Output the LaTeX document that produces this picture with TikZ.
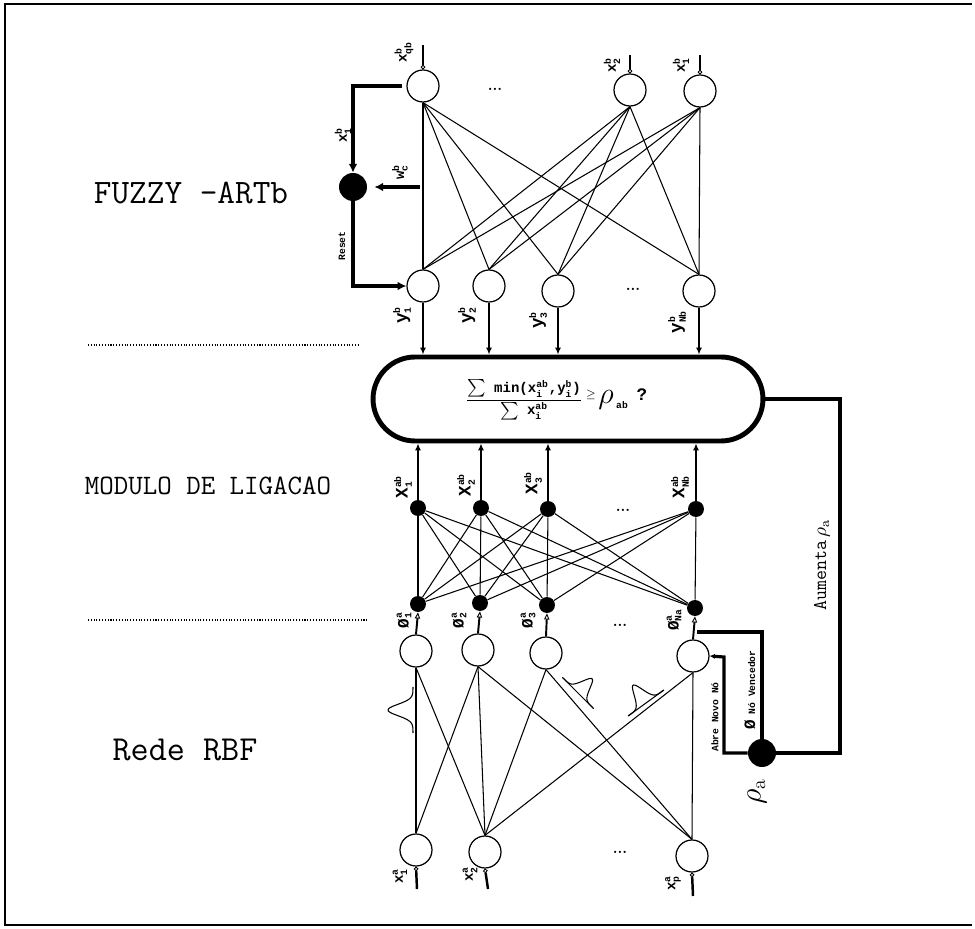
\documentclass[tikz,border=0pt]{standalone}
\usepackage{fontspec}
\newfontfamily\lblf{Liberation Mono}
\usetikzlibrary{arrows.meta}
\newcommand\SB[3]{#1$^{\hbox{\fontsize{5.5}{6}\selectfont#2}}_{\hbox{\fontsize{5.5}{6}\selectfont#3}}$}
\begin{document}
\begin{tikzpicture}[x=0.02cm,y=-0.02cm,
 neuron/.style={circle,draw,line width=0.7pt,minimum size=0.64cm,inner sep=0pt},
 ldot/.style={circle,fill,minimum size=0.32cm,inner sep=0pt},
 bigdot/.style={circle,fill,minimum size=0.56cm,inner sep=0pt},
 wire/.style={line width=0.6pt},
 heavy/.style={line width=1.8pt},
 outarr/.style={line width=1.4pt,-{Latex[length=4pt,width=3.5pt]}},
 inarr/.style={line width=1.4pt,-{Circle[open,length=2.6pt,width=2.6pt,line width=0.5pt]}},
 phiarr/.style={line width=1.1pt,-{Triangle[open,length=3.5pt,width=3pt,line width=0.5pt]}},
 lbl/.style={rotate=90,inner sep=0pt,font=\lblf\bfseries\fontsize{8}{9}\selectfont},
 lblb/.style={rotate=90,inner sep=0pt,font=\lblf\bfseries\fontsize{10}{11}\selectfont},
 tinylbl/.style={rotate=90,inner sep=0pt,font=\lblf\bfseries\fontsize{5.5}{6}\selectfont},
 ell/.style={font=\bfseries\fontsize{8}{8}\selectfont,inner sep=0pt}
]
\useasboundingbox (0,0) rectangle (975,929);
% frame
\draw[line width=1.2pt] (972,4) -- (5,4) -- (5,925) -- (972,925);

% ---------- FUZZY ARTb ----------
\node[neuron] (qb) at (423,86) {};
\node[neuron] (xb2) at (630,90) {};
\node[neuron] (xb1) at (700,91) {};
\node[ell] (dtop) at (495,89) {...};
\node[neuron] (y1) at (423,286) {};
\node[neuron] (y2) at (489,286) {};
\node[neuron] (y3) at (558,291) {};
\node[neuron] (yN) at (699,291) {};
\node[ell] (dy) at (633,289) {...};
\foreach \a in {qb,xb2,xb1}{\foreach \b in {y1,y2,y3,yN}{\draw[wire] (\a.south) -- (\b.north);}}

\coordinate (iqb) at (423,45);
\coordinate (ix2) at (630,55);
\coordinate (ix1) at (700,55);
\draw[inarr] (iqb) -- (qb.north);
\draw[inarr] (ix2) -- (xb2.north);
\draw[inarr] (ix1) -- (xb1.north);
\node[lbl] (lqb) at (404,52) {\SB{x}{b}{qb}};
\node[lbl] (lx2) at (612,65) {\SB{x}{b}{2}};
\node[lbl] (lx1) at (681,65) {\SB{x}{b}{1}};

% reset loop
\node[bigdot] (reset) at (353,187) {};
\coordinate (qbl) at (402,86);
\coordinate (wc) at (420,187);
\draw[heavy,-{Latex[length=5pt,width=5pt]}] (qbl) -| (reset.north);
\draw[heavy,-{Latex[length=5pt,width=5pt]}] (reset.south) |- (y1.west);
\draw[heavy,-{Latex[length=5pt,width=5pt]}] (wc) -- ([xshift=4pt]reset.east);
\node[lbl] (lxr) at (343,135) {\SB{x}{b}{1}};
\node[tinylbl] (lreset) at (342,246) {Reset};
\node[lbl] (lw) at (400,172) {\SB{w}{b}{c}};

% outputs y
\node[draw,line width=2.8pt,rounded corners=0.84cm,minimum width=7.8cm,minimum height=1.68cm] (oval) at (568,399) {};
\foreach \b in {y1,y2,y3,yN}{\draw[outarr] (\b.south) -- (\b.south |- oval.north);}
\node[lblb] (ly1) at (402,315) {\SB{y}{b}{1}};
\node[lblb] (ly2) at (467,315) {\SB{y}{b}{2}};
\node[lblb] (ly3) at (538,320) {\SB{y}{b}{3}};
\node[lblb] (lyN) at (677,322) {\SB{y}{b}{Nb}};

% oval text
\node[inner sep=0pt,font=\lblf\bfseries\fontsize{8}{9}\selectfont] (frac) at (524,400)
 {$\displaystyle\frac{\mbox{$\sum$ min(\SB{x}{ab}{i},\SB{y}{b}{i})}}{\mbox{$\sum$ \SB{x}{ab}{i}}}$};
\node[inner sep=0pt] (cge) at (591,395) {\fontsize{6}{6}\selectfont$\geq$};
\node[inner sep=0pt] (crho) at (606,400) {\fontsize{17}{17}\selectfont$\rho$};
\node[inner sep=0pt,font=\lblf\bfseries\fontsize{5.5}{6}\selectfont] (cab) at (622,405) {ab};
\node[inner sep=0pt,font=\lblf\bfseries\fontsize{10}{10}\selectfont] (cq) at (642,395) {?};

% dotted separators
\coordinate (s1a) at (88,345); \coordinate (s1b) at (360,345);
\coordinate (s2a) at (88,620); \coordinate (s2b) at (368,620);
\draw[line width=0.6pt,densely dotted] (s1a) -- (s1b);
\draw[line width=0.6pt,densely dotted] (s2a) -- (s2b);

% ---------- link module ----------
\node[ldot] (d1) at (418,508) {};
\node[ldot] (d2) at (481,508) {};
\node[ldot] (d3) at (548,509) {};
\node[ldot] (dN) at (696,509) {};
\node[ell] (dd) at (623,510) {...};
\node[ldot] (e1) at (418,604) {};
\node[ldot] (e2) at (480,603) {};
\node[ldot] (e3) at (547,605) {};
\node[ldot] (eN) at (695,608) {};
\foreach \a in {d1,d2,d3,dN}{\foreach \b in {e1,e2,e3,eN}{\draw[wire] (\a) -- (\b);}}
\foreach \a in {d1,d2,d3,dN}{\draw[line width=1.2pt,-{Latex[length=4pt,width=3.5pt]}] (\a.north) -- (\a.north |- oval.south);}
\node[lblb] (lab1) at (403,487) {\SB{X}{ab}{1}};
\node[lblb] (lab2) at (466,485) {\SB{X}{ab}{2}};
\node[lblb] (lab3) at (533,483) {\SB{X}{ab}{3}};
\node[lblb] (labN) at (680,487) {\SB{X}{ab}{Nb}};

% ---------- RBF ----------
\node[neuron] (p1) at (416,651) {};
\node[neuron] (p2) at (478,650) {};
\node[neuron] (p3) at (546,653) {};
\node[neuron] (pN) at (693,656) {};
\node[ell] (dp) at (620,625) {...};
\draw[phiarr] (p1.north) -- (e1.south);
\draw[phiarr] (p2.north) -- (e2.south);
\draw[phiarr] (p3.north) -- (e3.south);
\draw[phiarr] (pN.north) -- (eN.south);
\node[lblb,font=\lblf\bfseries\fontsize{9}{10}\selectfont] (lp1) at (404,620) {\SB{Ø}{a}{1}};
\node[lblb,font=\lblf\bfseries\fontsize{9}{10}\selectfont] (lp2) at (459,620) {\SB{Ø}{a}{2}};
\node[lblb,font=\lblf\bfseries\fontsize{9}{10}\selectfont] (lp3) at (528,620) {\SB{Ø}{a}{3}};
\node[lblb,font=\lblf\bfseries\fontsize{9}{10}\selectfont] (lpN) at (674,620) {\SB{Ø}{a}{Na}};

\node[neuron] (xa1) at (416,850) {};
\node[neuron] (xa2) at (485,852) {};
\node[neuron] (xap) at (692,856) {};
\node[ell] (dx) at (620,852) {...};
\foreach \a/\b in {p1/xa1,p1/xa2,p2/xa1,p2/xa2,p2/xap,p3/xa2,p3/xap,pN/xa2,pN/xap}{\draw[wire] (\a.south) -- (\b.north);}
\coordinate (ia1) at (417,889);
\coordinate (ia2) at (488,889);
\coordinate (iap) at (693,896);
\draw[inarr] (ia1) -- (xa1.south);
\draw[inarr] (ia2) -- (xa2.south);
\draw[inarr] (iap) -- (xap.south);
\node[lbl] (lxa1) at (400,876) {\SB{x}{a}{1}};
\node[lbl] (lxa2) at (470,874) {\SB{x}{a}{2}};
\node[lbl] (lxap) at (673,883) {\SB{x}{a}{p}};

% gaussians
\begin{scope}[shift={(413,710)},rotate=90]
 \draw[wire] plot[domain=-23:23,samples=50] (\x,{-25*exp(-1*(\x/8)*(\x/8))});
\end{scope}
\begin{scope}[shift={(578,693)},rotate=-45]
 \draw[wire] plot[domain=-22:22,samples=50] (\x,{-20*exp(-1*(\x/7)*(\x/7))});
 \draw[wire] (-22,0) -- (22,0);
\end{scope}
\begin{scope}[shift={(646,703)},rotate=36]
 \draw[wire] plot[domain=-22:22,samples=50] (\x,{-22*exp(-1*(\x/7)*(\x/7))});
 \draw[wire] (-22,0) -- (22,0);
\end{scope}

% ---------- vigilance control ----------
\node[bigdot] (rho) at (762,753) {};
\coordinate (ar) at (840,399);
\draw[heavy] (oval.east) -- (ar) |- (rho.east);
\coordinate (nv) at (697,632);
\draw[heavy] (rho.north) |- (nv);
\coordinate (av) at (724,657);
\draw[heavy,-{Latex[length=3pt,width=3pt]}] (rho.west) -| (av) -- (pN.east);
\node[rotate=90,inner sep=0pt,font=\ttfamily\fontsize{11}{12}\selectfont] (laum) at (822,565) {Aumenta\,$\rho_{\mathrm{a}}$};
\node[tinylbl] (lnv) at (750,690) {{\fontsize{9}{9}\selectfont Ø} Nó Vencedor};
\node[tinylbl] (lan) at (715,717) {Abre Novo Nó};
\node[rotate=90,inner sep=0pt] (lrho) at (757,792) {\fontsize{16}{16}\selectfont$\rho_{\mathrm{a}}$};

% ---------- section labels ----------
\node[inner sep=0pt,font=\ttfamily\fontsize{19.5}{21}\selectfont] (lfz) at (191,193) {FUZZY -ARTb};
\node[inner sep=0pt,font=\ttfamily\fontsize{16}{18}\selectfont] (lmod) at (208,486) {MODULO DE LIGACAO};
\node[inner sep=0pt,font=\ttfamily\fontsize{20}{22}\selectfont] (lrbf) at (185,750) {Rede RBF};
\end{tikzpicture}
\end{document}
